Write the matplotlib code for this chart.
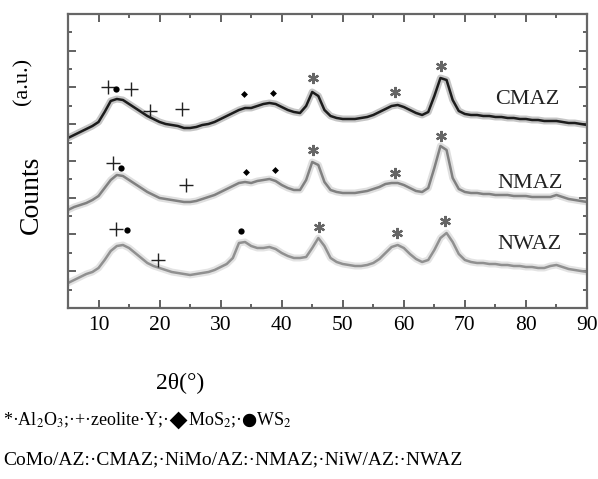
import numpy as np
import matplotlib
matplotlib.use("Agg")
import matplotlib.pyplot as plt
from matplotlib.ticker import MultipleLocator

plt.rcParams['font.family'] = ['Liberation Serif', 'DejaVu Serif']
plt.rcParams['mathtext.fontset'] = 'stix'

# 2theta grid (degrees)
two_theta = np.arange(5, 91, 1)

# stacked XRD intensities (a.u., offsets included)
cmaz = [170, 173, 176, 179, 182, 186, 196, 207, 209, 208,
        204, 200, 196, 192, 189, 186, 184, 183, 182, 180,
        180, 181, 183, 184, 186, 189, 192, 195, 198, 200,
        200, 202, 204, 205, 204, 201, 198, 196, 195, 202,
        216, 212, 198, 192, 190, 189, 189, 189, 190, 191,
        193, 196, 199, 202, 203, 201, 198, 195, 193, 196,
        212, 230, 228, 208, 197, 194, 193, 193, 192, 192,
        191, 191, 190, 190, 189, 189, 188, 188, 187, 187,
        187, 186, 185, 185, 184, 183]
nmaz = [98, 101, 103, 105, 108, 112, 120, 128, 133, 132,
        128, 124, 120, 116, 113, 110, 109, 108, 107, 106,
        106, 107, 109, 111, 113, 116, 119, 122, 125, 126,
        125, 127, 128, 129, 127, 123, 120, 118, 118, 128,
        146, 143, 126, 118, 116, 115, 115, 115, 116, 117,
        119, 121, 124, 125, 125, 123, 120, 117, 116, 120,
        140, 162, 158, 130, 119, 116, 115, 115, 114, 114,
        113, 113, 113, 112, 112, 112, 111, 111, 111, 111,
        113, 111, 109, 108, 107, 106]
nwaz = [25, 28, 31, 34, 36, 40, 48, 57, 62, 63,
        60, 55, 50, 45, 42, 40, 38, 36, 35, 34,
        33, 34, 35, 36, 38, 41, 44, 50, 65, 66,
        62, 60, 60, 61, 59, 55, 52, 50, 50, 51,
        60, 70, 62, 50, 46, 44, 43, 42, 42, 43,
        45, 49, 55, 61, 63, 60, 54, 49, 46, 48,
        58, 70, 75, 66, 54, 48, 46, 45, 45, 44,
        44, 43, 43, 42, 42, 41, 41, 40, 40, 42,
        43, 41, 39, 38, 37, 36]

sample_names = ['CMAZ', 'NMAZ', 'NWAZ']
line_colors = ['#1c1c1c', '#808080', '#909090']

# phase marks: (phase, 2theta, height)
cmaz_marks = [('zeo', 11.5, 221), ('ws2', 12.8, 219), ('zeo', 15.4, 219),
              ('zeo', 18.5, 197), ('zeo', 23.6, 199), ('mos2', 33.9, 214),
              ('mos2', 38.5, 215), ('al2o3', 45.1, 230), ('al2o3', 58.5, 216),
              ('al2o3', 66.1, 242)]
nmaz_marks = [('zeo', 12.3, 145), ('ws2', 13.6, 140), ('zeo', 24.4, 123),
              ('mos2', 34.1, 136), ('mos2', 38.9, 138), ('al2o3', 45.1, 158),
              ('al2o3', 58.5, 135), ('al2o3', 66.1, 172)]
nwaz_marks = [('zeo', 12.8, 79), ('ws2', 14.6, 78), ('zeo', 19.7, 48),
              ('ws2', 33.4, 77), ('al2o3', 46.1, 81), ('al2o3', 58.9, 75),
              ('al2o3', 66.8, 87)]

# label anchors (2theta, height)
label_pos = [(80.2, 208), (80.7, 124), (80.5, 63)]

mark_style = {
    'zeo': dict(marker='+', ms=10, mew=1.0, color='#222222'),
    'ws2': dict(marker='o', ms=4.5, mew=0, color='black'),
    'mos2': dict(marker='D', ms=3.5, mew=0, color='black'),
    'al2o3': dict(marker=(6, 2, 0), ms=8, mew=1.6, color='#666666'),
}

fig = plt.figure(figsize=(5.98, 4.79), dpi=100)
ax = fig.add_axes([0.1137, 0.357, 0.8679, 0.6138])

for y, c in zip([cmaz, nmaz, nwaz], line_colors):
    ax.plot(two_theta, y, color=c, lw=5.0, alpha=0.25, solid_joinstyle='round')
    ax.plot(two_theta, y, color=c, lw=1.8, solid_joinstyle='round')

for marks in [cmaz_marks, nmaz_marks, nwaz_marks]:
    for phase, xm, ym in marks:
        ax.plot(xm, ym, linestyle='none', **mark_style[phase])

for name, (xl, yl) in zip(sample_names, label_pos):
    ax.text(xl, yl, name, fontsize=16, ha='center', va='center', color='#222222')

ax.set_xlim(5, 90)
ax.set_ylim(0, 294)
ax.xaxis.set_major_locator(MultipleLocator(10))
ax.xaxis.set_minor_locator(MultipleLocator(5))
ax.yaxis.set_major_locator(MultipleLocator(294 / 8))
ax.yaxis.set_minor_locator(MultipleLocator(294 / 16))
ax.tick_params(which='both', direction='in', top=True, right=True,
               color='#555555', width=1.3)
ax.tick_params(which='major', length=6, labelsize=15.5, pad=6)
ax.tick_params(which='minor', length=3)
ax.tick_params(axis='y', labelleft=False)
for lbl in ax.get_xticklabels():
    lbl.set_fontfamily('Liberation Serif')
for s in ax.spines.values():
    s.set_color('#666666')
    s.set_linewidth(1.6)

fig.text(0.0385, 0.831, '(a.u.)', rotation=90, fontsize=16,
         ha='center', va='center')
fig.text(0.052, 0.593, 'Counts', rotation=90, fontsize=20,
         ha='center', va='center')
fig.text(0.301, 0.2004, '2θ(°)', fontsize=17, ha='center', va='center')

fig.text(0.005, 0.123,
         '*·Al$_2$O$_3$;·+·zeolite·Y;·$◆$MoS$_2$;·$●$WS$_2$',
         fontsize=13, ha='left', va='center')
fig.text(0.005, 0.040,
         'CoMo/AZ:·CMAZ;·NiMo/AZ:·NMAZ;·NiW/AZ:·NWAZ',
         fontsize=14, ha='left', va='center')

fig.savefig('out.png', dpi=100)
